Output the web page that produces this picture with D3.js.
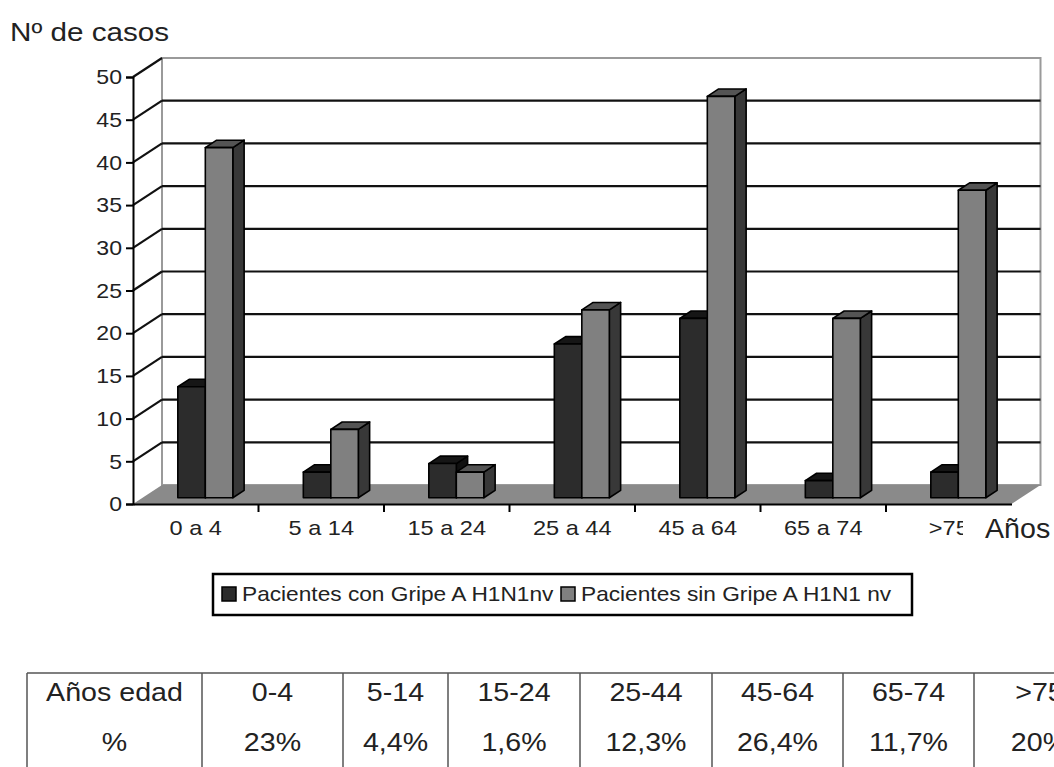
<!DOCTYPE html>
<html>
<head>
<meta charset="utf-8">
<script src="https://cdn.jsdelivr.net/npm/d3@7"></script>
<style>
  html, body { margin: 0; padding: 0; background: #fff; }
  svg { display: block; font-family: "Liberation Sans", Arial, sans-serif; }
</style>
</head>
<body>
<svg id="chart" width="1054" height="767"></svg>
<script>
// Casos por grupo de edad
const categories = ["0 a 4", "5 a 14", "15 a 24", "25 a 44", "45 a 64", "65 a 74", ">75"];
const seriesNames = ["Pacientes con Gripe A H1N1nv", "Pacientes sin Gripe A H1N1 nv"];
const conGripe = [13, 3, 4, 18, 21, 2, 3];
const sinGripe = [41, 8, 3, 22, 47, 21, 36];
const yTicks = [0, 5, 10, 15, 20, 25, 30, 35, 40, 45, 50];

// Tabla de porcentajes
const tableHeader = ["Años edad", "0-4", "5-14", "15-24", "25-44", "45-64", "65-74", ">75"];
const tablePct = ["%", "23%", "4,4%", "1,6%", "12,3%", "26,4%", "11,7%", "20%"];

// Layout
const W = 1054, H = 767;
const X0 = 133, BAND = 125.5;
const DX = 29, DY = -19;          // depth offset of the back wall
const F0 = 0.33, F1 = 0.72;       // depth span of the bars (fraction of floor)
const tableCols = [27, 202, 343, 448, 580, 712, 843, 974, 1105];
const WIDEN = 1.1;                // text is set slightly wide

const svg = d3.select("#chart");
const font = "'Liberation Sans', Arial, sans-serif";

// widen a text selection horizontally by a factor
function widen(sel, k) {
  sel.each(function () {
    const len = this.getComputedTextLength();
    d3.select(this).attr("textLength", len * k).attr("lengthAdjust", "spacingAndGlyphs");
  });
}

const x = d3.scaleBand().domain(categories).range([X0, X0 + BAND * categories.length]);
const y = d3.scaleLinear().domain([0, 50]).range([504, 77]);
const xs = d3.scaleBand().domain(seriesNames).range([BAND / 2 - 27.5, BAND / 2 + 27.5]);

const xRight = X0 + BAND * categories.length;
const backL = X0 + DX, backR = xRight + DX;

// Back wall
svg.append("rect")
  .attr("x", backL).attr("y", y(50) + DY)
  .attr("width", backR - backL).attr("height", y(0) - y(50))
  .attr("fill", "#fff").attr("stroke", "#9a9a9a").attr("stroke-width", 2);

// Floor
svg.append("path")
  .attr("d", d3.line()([[X0, y(0)], [xRight, y(0)], [backR, y(0) + DY], [backL, y(0) + DY]]) + "Z")
  .attr("fill", "#8a8a8a");

// Gridlines on back wall and left wall
const grid = svg.append("g").attr("stroke", "#111").attr("stroke-width", 2.2).attr("fill", "none");
yTicks.filter(v => v > 0).forEach(v => {
  grid.append("path").attr("d", d3.line()([[X0, y(v)], [backL, y(v) + DY]]));
  if (v < 50) {
    grid.append("path").attr("d", d3.line()([[backL, y(v) + DY], [backR, y(v) + DY]]));
  }
});

// Bars
const colors = [
  { front: "#2c2c2c", top: "#161616", side: "#101010" },
  { front: "#808080", top: "#545454", side: "#383838" }
];
const ddx = DX * (F1 - F0), ddy = DY * (F1 - F0);
const bars = svg.append("g").attr("stroke", "#000").attr("stroke-width", 1.6).attr("stroke-linejoin", "round");

categories.forEach((cat, i) => {
  [conGripe[i], sinGripe[i]].forEach((val, s) => {
    const w = xs.bandwidth();
    const fx = x(cat) + xs(seriesNames[s]) + DX * F0;
    const yTop = y(val) + DY * F0;
    const yBot = y(0) + DY * F0;
    const c = colors[s];
    const g = bars.append("g");
    g.append("path")
      .attr("d", d3.line()([[fx + w, yTop], [fx + w + ddx, yTop + ddy], [fx + w + ddx, yBot + ddy], [fx + w, yBot]]) + "Z")
      .attr("fill", c.side);
    g.append("path")
      .attr("d", d3.line()([[fx, yTop], [fx + w, yTop], [fx + w + ddx, yTop + ddy], [fx + ddx, yTop + ddy]]) + "Z")
      .attr("fill", c.top);
    g.append("rect")
      .attr("x", fx).attr("y", yTop).attr("width", w).attr("height", yBot - yTop)
      .attr("fill", c.front);
  });
});

// Value axis
const yAxis = svg.append("g")
  .attr("transform", `translate(${X0},0)`)
  .call(d3.axisLeft(y).tickValues(yTicks).tickSize(7).tickPadding(4));
yAxis.select(".domain").attr("stroke", "#000").attr("stroke-width", 2);
yAxis.selectAll(".tick line").attr("stroke", "#000").attr("stroke-width", 2);
yAxis.selectAll("text").attr("font-family", font).attr("font-size", 21).attr("fill", "#222")
  .call(widen, WIDEN);

// Category axis
const xAxis = svg.append("g")
  .attr("transform", `translate(0,${y(0)})`)
  .call(d3.axisBottom(x).tickSize(0).tickPadding(16));
xAxis.select(".domain").attr("stroke", "#000").attr("stroke-width", 2);
xAxis.selectAll("text").attr("font-family", font).attr("font-size", 21).attr("fill", "#222")
  .call(widen, 1.12);
// boundary ticks between categories
svg.append("g").selectAll("line")
  .data(categories.slice(1))
  .join("line")
  .attr("x1", d => x(d)).attr("x2", d => x(d))
  .attr("y1", y(0)).attr("y2", y(0) + 8)
  .attr("stroke", "#000").attr("stroke-width", 2);

// Axis titles
svg.append("text")
  .attr("x", 10).attr("y", 41)
  .attr("font-family", font).attr("font-size", 26).attr("fill", "#222")
  .text("Nº de casos")
  .call(widen, 1.14);
svg.append("rect")
  .attr("x", 963).attr("y", 506).attr("width", 91).attr("height", 46)
  .attr("fill", "#fff");
svg.append("text")
  .attr("x", 985).attr("y", 538)
  .attr("font-family", font).attr("font-size", 27).attr("fill", "#222")
  .text("Años")
  .call(widen, 1.06);

// Legend
const legend = svg.append("g");
legend.append("rect")
  .attr("x", 213).attr("y", 574).attr("width", 699).attr("height", 41)
  .attr("fill", "#fff").attr("stroke", "#000").attr("stroke-width", 2.5);
const legendX = [222, 561];
seriesNames.forEach((name, s) => {
  legend.append("rect")
    .attr("x", legendX[s]).attr("y", 587).attr("width", 14).attr("height", 14)
    .attr("fill", colors[s].front).attr("stroke", "#000").attr("stroke-width", 1.5);
  legend.append("text")
    .attr("x", legendX[s] + 20).attr("y", 601)
    .attr("font-family", font).attr("font-size", 21).attr("fill", "#222")
    .text(name)
    .call(widen, 1.08);
});

// Percentage table
const table = svg.append("g");
table.append("line")
  .attr("x1", tableCols[0]).attr("x2", W).attr("y1", 673).attr("y2", 673)
  .attr("stroke", "#555").attr("stroke-width", 1.5);
table.selectAll("line.col")
  .data(tableCols.slice(0, -1))
  .join("line").attr("class", "col")
  .attr("x1", d => d).attr("x2", d => d).attr("y1", 673).attr("y2", H)
  .attr("stroke", "#555").attr("stroke-width", 1.5);
[tableHeader, tablePct].forEach((row, r) => {
  table.selectAll(`text.r${r}`)
    .data(row)
    .join("text").attr("class", `r${r}`)
    .attr("x", (d, i) => (tableCols[i] + tableCols[i + 1]) / 2)
    .attr("y", r === 0 ? 701 : 751)
    .attr("text-anchor", "middle")
    .attr("font-family", font).attr("font-size", 26).attr("fill", "#222")
    .text(d => d)
    .call(widen, 1.1);
});
</script>
</body>
</html>
